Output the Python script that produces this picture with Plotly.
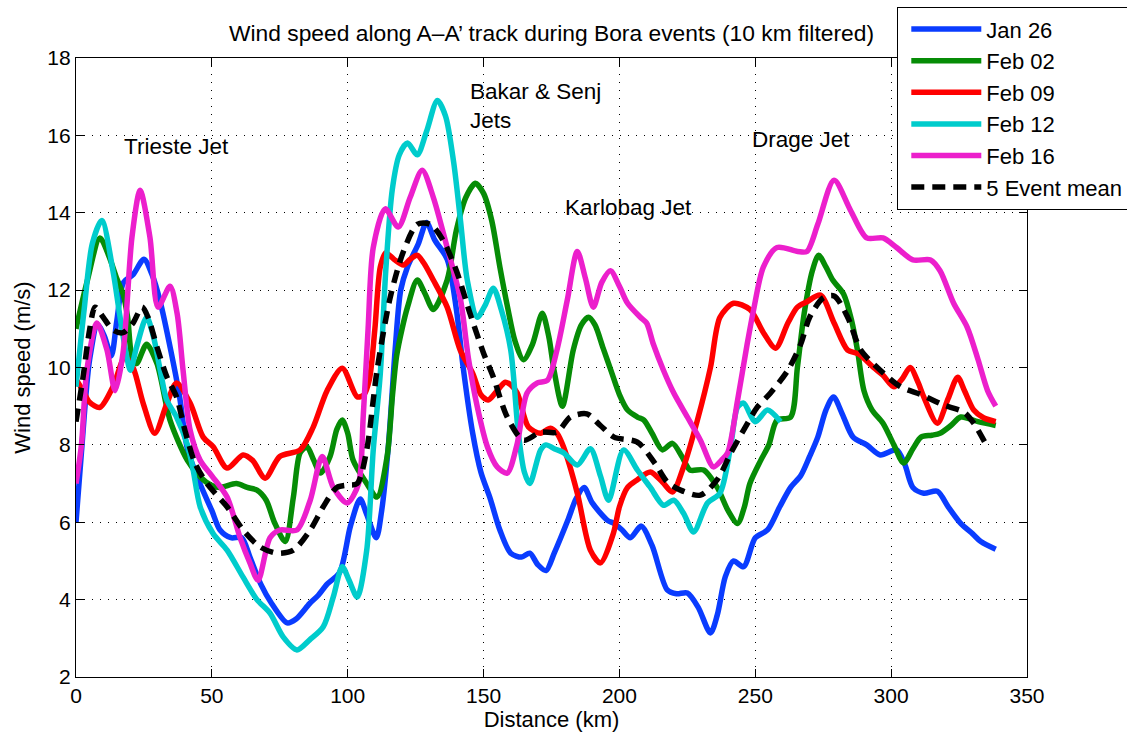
import plotly.graph_objects as go

# ---------------- data ----------------
dist_jan26 = [0, 2, 5, 8, 10.5, 13, 15, 17.5, 21, 25, 28, 31, 35, 38, 41, 45.6, 50, 53, 57, 61, 64, 68, 72, 77.7,
              81, 86, 89, 92.4, 97, 101, 104.6, 107, 110.5, 112.5, 115, 117.5, 119.5, 122, 126, 129, 132, 136.6,
              140, 142.5, 146, 149, 152.5, 156, 160, 164, 167, 170, 173, 176, 181, 184, 187, 190, 195.6, 198, 201,
              204, 208, 212, 217.6, 221, 225, 229, 233.5, 236, 239, 242, 245.7, 250, 254.5, 259, 263, 266.7, 270,
              273, 276, 278.8, 282, 286, 291, 296, 302, 305, 308, 312, 317, 321, 325.6, 330, 333, 338.5]
wind_jan26 = [6.0, 7.8, 10.2, 11.1, 10.8, 10.3, 11.2, 12.2, 12.4, 12.8, 12.4, 11.7, 10.4, 9.3, 7.9, 7.0, 6.3, 5.8,
              5.6, 5.6, 5.1, 4.4, 3.9, 3.4, 3.5, 3.9, 4.1, 4.4, 4.7, 5.9, 6.6, 6.2, 5.6, 6.3, 8.0, 10.5, 12.0, 12.6,
              13.2, 13.75, 13.3, 12.8, 11.5, 10.0, 8.3, 7.3, 6.6, 5.8, 5.2, 5.1, 5.2, 4.9, 4.75, 5.2, 6.05, 6.6, 6.9,
              6.5, 6.05, 5.97, 5.8, 5.6, 5.9, 5.4, 4.25, 4.15, 4.17, 3.8, 3.14, 3.6, 4.6, 5.0, 4.85, 5.6, 5.8, 6.4,
              6.9, 7.2, 7.7, 8.2, 8.9, 9.24, 8.8, 8.2, 8.0, 7.74, 7.87, 7.5, 6.9, 6.75, 6.8, 6.4, 5.97, 5.7, 5.5, 5.3]

dist_feb02 = [0, 4, 8.8, 12, 15, 17.3, 19, 20.6, 22.3, 26, 29.8, 34.6, 41, 45.7, 50, 53, 59, 63, 66.6, 70, 73, 77,
              80, 82.5, 85, 87.5, 90, 93.5, 96, 98, 100, 102, 107, 110.8, 114.5, 116.5, 118, 120, 122, 125.6, 128.5,
              131.5, 136.6, 140, 143.5, 147, 150, 153, 156, 159, 161.5, 164.7, 168, 171.6, 174, 176, 179, 183, 186,
              188.6, 191, 194, 197, 200, 203, 206.6, 209, 212, 215.8, 219.5, 223, 226, 231, 236, 240, 243.5, 246,
              248, 252, 255, 258, 263, 265.5, 268, 271, 273.3, 276, 278.5, 282.5, 285.5, 287.6, 290, 293, 297, 301,
              304.6, 308, 311, 315, 318, 322, 325.6, 332, 338.5]
wind_feb02 = [11.0, 12.2, 13.35, 12.9, 12.3, 11.9, 11.3, 10.27, 10.1, 10.6, 10.1, 8.64, 7.6, 7.17, 6.95, 6.9, 7.0,
              6.9, 6.83, 6.57, 6.0, 5.5, 6.65, 7.8, 7.95, 7.6, 7.27, 7.7, 8.4, 8.64, 8.3, 7.6, 7.0, 6.65, 7.7, 9.3,
              10.3, 11.0, 11.56, 12.26, 11.9, 11.5, 12.26, 13.55, 14.4, 14.76, 14.5, 13.8, 12.6, 11.5, 10.7, 10.2,
              10.6, 11.4, 10.8, 9.9, 9.0, 10.45, 11.1, 11.3, 11.1, 10.5, 9.9, 9.3, 8.9, 8.72, 8.64, 8.3, 7.87, 8.04,
              7.7, 7.35, 7.35, 6.9, 6.3, 5.97, 6.4, 7.0, 7.6, 8.0, 8.64, 8.72, 10.0, 11.4, 12.5, 12.9, 12.6, 12.26,
              11.9, 11.2, 10.45, 9.4, 8.9, 8.56, 8.0, 7.53, 7.9, 8.2, 8.25, 8.3, 8.5, 8.72, 8.6, 8.5]

dist_feb09 = [0, 2.6, 5, 8.8, 13.6, 18, 21, 24.7, 29, 33.5, 37, 42, 46.8, 50.5, 55.6, 61.5, 65, 69.6, 75, 82.5,
              87.3, 92.4, 98, 103.5, 106, 108, 110, 112, 114, 117, 120.5, 123, 125.6, 128, 131.5, 136.6, 141.4,
              146, 149, 151.7, 155, 158, 160, 162.4, 166.5, 171, 174.6, 177, 179.4, 184.5, 189.3, 193, 197.8, 200,
              203, 206.6, 211.4, 215.8, 219.5, 223.6, 228.7, 233.5, 237, 242, 248, 253, 257.5, 262, 265.5, 269,
              274, 279, 284, 288, 293.5, 297, 301, 304, 307, 310, 312, 317, 321, 324.5, 327, 330.4, 334, 338.5]
wind_feb09 = [9.7, 9.4, 9.1, 8.97, 9.5, 10.27, 10.0, 9.08, 8.3, 9.08, 9.6, 9.08, 8.2, 7.95, 7.4, 7.74, 7.6, 7.14,
              7.7, 7.87, 8.46, 9.4, 9.98, 9.24, 9.3, 9.7, 11.0, 12.6, 12.96, 12.8, 12.65, 12.8, 12.9, 12.7, 12.26,
              11.56, 10.45, 9.85, 9.3, 9.16, 9.4, 9.62, 9.55, 9.34, 8.46, 8.3, 8.43, 8.3, 7.95, 6.75, 5.28, 4.95,
              5.72, 6.4, 6.9, 7.1, 7.3, 7.04, 6.78, 7.43, 8.64, 10.0, 11.3, 11.66, 11.5, 10.9, 10.5, 11.15, 11.56,
              11.7, 11.87, 11.15, 10.45, 10.35, 10.0, 9.8, 9.5, 9.7, 10.0, 9.6, 9.24, 8.56, 9.2, 9.75, 9.4, 8.9,
              8.7, 8.6]

dist_feb12 = [0, 3, 6, 9.5, 13.6, 16, 18.7, 20, 22.3, 26, 28.5, 31, 33.4, 37, 41, 43, 45.7, 50.5, 55.6, 61.5, 66.6,
              71.4, 76.3, 81.3, 86, 91, 94.7, 98, 100.5, 103.5, 107, 109.4, 112, 114, 116.4, 119, 122, 125.6, 129,
              133, 136, 139, 141.5, 144, 147.7, 150.5, 153.6, 156.5, 160, 162.8, 165, 167, 171, 173, 176, 179.4,
              184.5, 189.3, 193, 196, 201.5, 206.6, 211.4, 216.2, 220, 223.6, 227.3, 232.4, 237, 240.9, 243.5,
              245.7, 250, 254.5, 259.3]
wind_feb12 = [9.5, 11.5, 13.2, 13.8, 12.5, 11.4, 10.27, 9.93, 10.53, 11.3, 10.8, 9.93, 9.16, 8.72, 8.0, 7.4, 6.4,
              5.7, 5.28, 4.58, 4.0, 3.65, 3.03, 2.7, 2.96, 3.3, 4.07, 4.85, 4.5, 4.07, 5.28, 7.87, 9.85, 12.5, 14.6,
              15.5, 15.8, 15.5, 16.1, 16.9, 16.5, 15.3, 13.8, 12.26, 11.3, 11.6, 12.05, 11.5, 10.45, 8.3, 7.3, 7.0,
              7.87, 8.0, 7.9, 7.8, 7.48, 7.9, 7.2, 6.57, 7.87, 7.35, 6.9, 6.44, 6.57, 6.23, 5.75, 6.5, 6.75, 7.95,
              8.98, 9.08, 8.6, 8.9, 8.6]

dist_feb16 = [0, 2, 4, 7.7, 11.4, 14.4, 17.3, 20.6, 23.6, 27.2, 30.2, 34.6, 37.2, 39.4, 42, 45.7, 50, 55.6, 60.4,
              64, 67, 71.4, 75, 81.3, 86.2, 90.6, 94.7, 99.8, 104, 105.7, 107.5, 109.4, 113.8, 118.6, 123, 127.4,
              131.5, 136.6, 141.4, 144.5, 147.7, 151.4, 155, 158.7, 162.4, 166, 169.8, 173.5, 177, 180.8, 184.5,
              187.5, 190.4, 193.5, 196.7, 200, 203, 207.7, 210, 212.5, 216.2, 220, 225, 229.8, 234.6, 237.5, 239.8,
              243.5, 247, 249.4, 253, 258, 265.6, 269, 273, 279, 285, 291, 297, 302, 308, 314.5, 318, 323, 328,
              332, 335.5, 338.5]
wind_feb16 = [7.0, 8.0, 9.93, 11.15, 10.45, 9.4, 10.37, 13.37, 14.58, 13.37, 11.56, 12.1, 11.4, 9.93, 8.38, 7.6,
              7.2, 6.65, 5.6, 4.95, 4.5, 5.6, 5.8, 5.8, 6.57, 7.7, 6.9, 6.5, 7.0, 8.72, 11.0, 13.1, 14.1, 13.63,
              14.4, 15.1, 14.4, 13.1, 11.8, 10.2, 8.98, 7.95, 7.43, 7.27, 8.04, 9.34, 9.6, 9.67, 10.45, 11.74, 13.0,
              12.3, 11.56, 12.2, 12.5, 12.1, 11.66, 11.3, 11.15, 10.6, 9.93, 9.34, 8.72, 8.12, 7.43, 7.6, 7.79,
              9.16, 10.6, 11.5, 12.6, 13.1, 13.0, 13.0, 13.7, 14.84, 14.07, 13.35, 13.35, 13.1, 12.78, 12.78, 12.5,
              11.66, 11.04, 10.2, 9.4, 9.0]

dist_mean = [0, 2.6, 5, 7, 10, 13.6, 17.3, 21, 24.3, 26.5, 29.8, 33.5, 37, 40, 43.8, 48.2, 55.6, 61.5, 67.8, 74, 80,
             86.2, 91, 96, 99.8, 103.5, 107, 109.4, 110.8, 115.6, 120.5, 125.6, 130.4, 135, 140, 145, 150, 153.6,
             158.7, 164.7, 171, 177, 182, 188, 193, 198, 206.6, 213, 217.6, 222.5, 229.8, 236, 241, 245.7, 250.8,
             255.6, 262, 266.7, 270, 275, 279, 284, 288.8, 296, 303.5, 311, 319.3, 326.7, 330.4, 335]
wind_mean = [8.6, 9.75, 10.97, 11.56, 11.3, 10.97, 10.9, 11.15, 11.56, 11.3, 10.53, 9.75, 9.24, 8.4, 7.53, 7.0, 6.4,
             5.8, 5.36, 5.2, 5.28, 5.8, 6.4, 6.9, 6.96, 7.0, 7.87, 9.16, 9.93, 11.8, 13.0, 13.7, 13.7, 13.3, 12.5,
             11.4, 10.37, 9.75, 8.72, 8.12, 8.33, 8.33, 8.72, 8.8, 8.5, 8.2, 8.07, 7.53, 7.04, 6.83, 6.7, 7.1, 7.79,
             8.38, 8.98, 9.34, 9.93, 10.6, 11.3, 11.8, 11.85, 11.3, 10.45, 9.93, 9.5, 9.3, 9.03, 8.85, 8.56, 8.0]

series_names = ["Jan 26", "Feb 02", "Feb 09", "Feb 12", "Feb 16", "5 Event mean"]
series_colors = ["#0a3cff", "#068c06", "#ff0000", "#00cccc", "#ec1fcc", "#000000"]

x_ticks = [0, 50, 100, 150, 200, 250, 300, 350]
y_ticks = [2, 4, 6, 8, 10, 12, 14, 16, 18]

jet_labels = ["Trieste Jet", "Bakar & Senj<br>Jets", "Karlobag Jet", "Drage Jet"]
jet_label_x = [17, 144.3, 179.4, 248]
jet_label_y = [15.72, 16.75, 14.14, 15.9]

FONT = "Liberation Sans, Arial, Helvetica, sans-serif"

fig = go.Figure()
data = [(dist_jan26, wind_jan26), (dist_feb02, wind_feb02), (dist_feb09, wind_feb09),
        (dist_feb12, wind_feb12), (dist_feb16, wind_feb16), (dist_mean, wind_mean)]
for (xs, ys), name, col in zip(data, series_names, series_colors):
    dash = "13px,8px" if name == "5 Event mean" else "solid"
    fig.add_trace(go.Scatter(x=xs, y=ys, mode="lines", name=name,
                             line=dict(color=col, width=5.5, dash=dash, shape="spline", smoothing=0.8)))

for txt, ax_, ay_ in zip(jet_labels, jet_label_x, jet_label_y):
    fig.add_annotation(x=ax_, y=ay_, xref="x", yref="y", text=txt, showarrow=False,
                       xanchor="left", yanchor="middle", align="left",
                       font=dict(family=FONT, size=22.5, color="black"))

fig.update_layout(
    width=1127, height=738,
    margin=dict(l=76, r=100, t=58, b=61, autoexpand=False),
    paper_bgcolor="white", plot_bgcolor="white",
    font=dict(family=FONT, size=22, color="black"),
    title=dict(text="Wind speed along A\u2013A\u2019 track during Bora events (10 km filtered)",
               x=0.5, xref="paper", xanchor="center", y=1 - 33 / 738, yref="container",
               yanchor="middle", font=dict(family=FONT, size=22.8, color="black")),
    showlegend=True,
    legend=dict(x=(897 - 76) / 951, y=1 + 51 / 619, xanchor="left", yanchor="top",
                bgcolor="white", bordercolor="black", borderwidth=1.3,
                font=dict(family=FONT, size=22, color="black"), itemwidth=70,
                indentation=8, tracegroupgap=0),
)
fig.update_xaxes(range=[0, 350], tickvals=x_ticks, ticks="inside", ticklen=8, tickcolor="black",
                 showline=True, linecolor="black", linewidth=1.3, mirror="ticks",
                 showgrid=True, gridcolor="black", gridwidth=1, griddash="1px,7px", zeroline=False,
                 tickfont=dict(family=FONT, size=21),
                 title=dict(text="Distance (km)", standoff=4, font=dict(family=FONT, size=22)))
fig.update_yaxes(range=[2, 18], tickvals=y_ticks, ticks="inside", ticklen=8, tickcolor="black",
                 showline=True, linecolor="black", linewidth=1.3, mirror="ticks",
                 showgrid=True, gridcolor="black", gridwidth=1, griddash="1px,7px", zeroline=False,
                 tickfont=dict(family=FONT, size=21),
                 title=dict(text="Wind speed (m/s)", standoff=10, font=dict(family=FONT, size=22)))

fig.write_html("out.html")
